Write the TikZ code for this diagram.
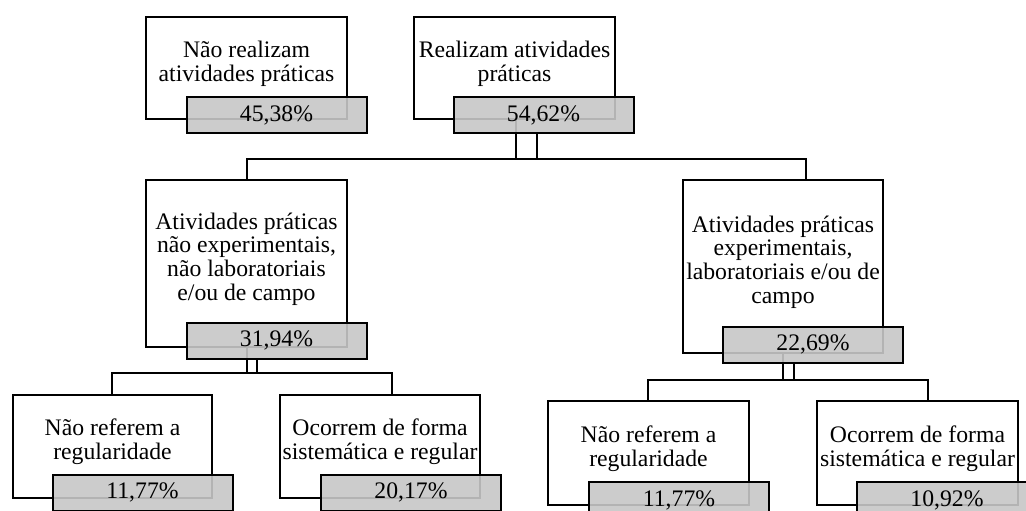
\documentclass[tikz,border=0pt]{standalone}
\usepackage{fontspec}
\setmainfont{Liberation Serif}
\begin{document}
\begin{tikzpicture}[x=1pt,y=-1pt,
  wbox/.style={draw, line width=2pt, fill=white, inner sep=0pt},
  gbox/.style={draw, line width=2pt, fill=black!22, fill opacity=0.9, text opacity=1,
    inner sep=0pt, minimum width=180pt, minimum height=36pt,
    font=\fontsize{23.7}{23.7}\selectfont},
  lbl/.style={align=center, inner sep=0pt, font=\fontsize{23.7}{23.7}\selectfont},
  conn/.style={line width=2pt}]
\useasboundingbox (0,0) rectangle (1026,511);
% white boxes
\node[wbox, minimum width=201pt, minimum height=102pt] (A) at (246.5,68) {};
\node[wbox, minimum width=201pt, minimum height=102pt] (B) at (514.5,68) {};
\node[wbox, minimum width=201pt, minimum height=167pt] (D) at (246.5,263.5) {};
\node[wbox, minimum width=200pt, minimum height=173pt] (C) at (783,266.5) {};
\node[wbox, minimum width=199pt, minimum height=103pt] (G) at (112.5,446.5) {};
\node[wbox, minimum width=200pt, minimum height=103pt] (H) at (380,446.5) {};
\node[wbox, minimum width=201pt, minimum height=104pt] (E) at (648.5,453) {};
\node[wbox, minimum width=201pt, minimum height=104pt] (F) at (917.5,453) {};
% labels
\node[lbl] (At) at (246.5,64) {Não realizam\\atividades práticas};
\node[lbl] (Bt) at (514.5,64) {Realizam atividades\\práticas};
\node[lbl] (Dt) at (246.5,259) {Atividades práticas\\não experimentais,\\não laboratoriais\\e/ou de campo};
\node[lbl] (Ct) at (783,262) {Atividades práticas\\experimentais,\\laboratoriais e/ou de\\campo};
\node[lbl] (Gt) at (112.5,442) {Não referem a\\regularidade};
\node[lbl] (Ht) at (380,442) {Ocorrem de forma\\sistemática e regular};
\node[lbl] (Et) at (648.5,448.5) {Não referem a\\regularidade};
\node[lbl] (Ft) at (917.5,448.5) {Ocorrem de forma\\sistemática e regular};
% junction coordinates
\coordinate (b1) at (516,159);
\coordinate (b2) at (537,159);
\coordinate (hL) at (247,159);
\coordinate (hR) at (806,159);
\coordinate (d1) at (247,373);
\coordinate (d2) at (257,373);
\coordinate (dL) at (112,373);
\coordinate (dR) at (392,373);
\coordinate (c1) at (783,380);
\coordinate (c2) at (794,380);
\coordinate (cL) at (648,380);
\coordinate (cR) at (928,380);
% connectors (drawn before gray boxes so they show through)
\draw[conn] (B.south -| b1) -- (b1);
\draw[conn] (D.north -| hL) -- (hL) -- (hR) -- (C.north -| hR);
\draw[conn] (D.south -| d1) -- (d1);
\draw[conn] (G.north -| dL) -- (dL) -- (dR) -- (H.north -| dR);
\draw[conn] (C.south -| c1) -- (c1);
\draw[conn] (E.north -| cL) -- (cL) -- (cR) -- (F.north -| cR);
% gray boxes
\node[gbox] (gA) at (276.5,115) {45,38\%};
\node[gbox] (gB) at (543.5,115) {54,62\%};
\node[gbox] (gD) at (276.5,340.5) {31,94\%};
\node[gbox] (gC) at (813,344.5) {22,69\%};
\node[gbox] (gG) at (142.5,492.5) {11,77\%};
\node[gbox] (gH) at (411,492.5) {20,17\%};
\node[gbox] (gE) at (679,500) {11,77\%};
\node[gbox] (gF) at (947,500) {10,92\%};
% second legs of the double connectors
\draw[conn] (gB.south -| b2) -- (b2) -- (b1);
\draw[conn] (gD.south -| d2) -- (d2) -- (d1);
\draw[conn] (gC.south -| c2) -- (c2) -- (c1);
\end{tikzpicture}
\end{document}
